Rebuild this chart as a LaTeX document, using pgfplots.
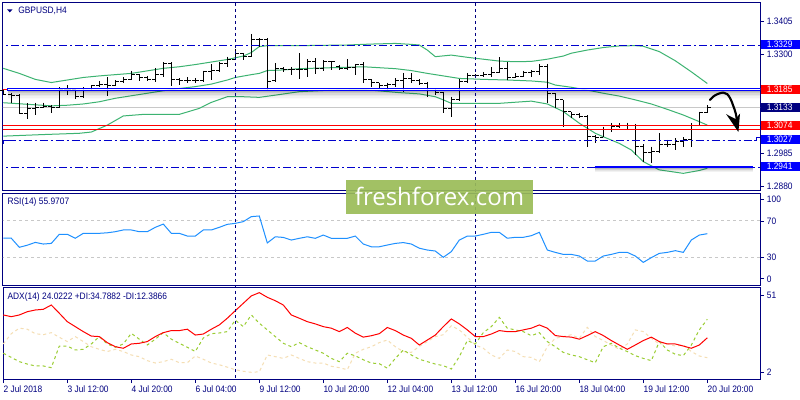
\documentclass[border=0pt]{standalone}
\usepackage{fontspec}
\setmainfont{Liberation Sans}[FakeStretch=0.9]
\newfontfamily\wmfont{Open Sans}
\usepackage{pgfplots}
\pgfplotsset{compat=1.18}
\usepackage{pgfplotstable}

\definecolor{navyc}{RGB}{0,0,128}
\definecolor{lvl}{RGB}{0,0,205}
\definecolor{bluel}{RGB}{0,0,255}
\definecolor{bb}{RGB}{60,179,113}
\definecolor{rsic}{RGB}{30,144,255}
\definecolor{pdi}{RGB}{154,205,50}
\definecolor{mdi}{RGB}{245,222,179}
\definecolor{wm}{RGB}{155,188,87}
\definecolor{bidc}{RGB}{200,200,200}
\newcommand\lbl{\fontsize{7pt}{8pt}\selectfont}

% open / close ticks of the OHLC bars
\pgfdeclareplotmark{otick}{\pgfpathmoveto{\pgfqpoint{-2.4pt}{0pt}}\pgfpathlineto{\pgfqpoint{0pt}{0pt}}\pgfusepathqstroke}
\pgfdeclareplotmark{ctick}{\pgfpathmoveto{\pgfqpoint{0pt}{0pt}}\pgfpathlineto{\pgfqpoint{2.4pt}{0pt}}\pgfusepathqstroke}

\pgfplotstableread{
x o h l c
0 1.3184 1.3186 1.3170 1.3173
1 1.3173 1.3178 1.3144 1.3170
2 1.3170 1.3173 1.3109 1.3112
3 1.3112 1.3144 1.3093 1.3128
4 1.3128 1.3146 1.3107 1.3131
5 1.3131 1.3146 1.3128 1.3133
6 1.3133 1.3139 1.3112 1.3130
7 1.3130 1.3195 1.3128 1.3188
8 1.3188 1.3202 1.3170 1.3188
9 1.3188 1.3192 1.3157 1.3165
10 1.3165 1.3195 1.3162 1.3186
11 1.3186 1.3202 1.3184 1.3199
12 1.3199 1.3215 1.3195 1.3204
13 1.3204 1.3226 1.3167 1.3202
14 1.3202 1.3218 1.3200 1.3213
15 1.3213 1.3226 1.3207 1.3220
16 1.3220 1.3248 1.3218 1.3234
17 1.3234 1.3237 1.3215 1.3226
18 1.3226 1.3231 1.3215 1.3220
19 1.3220 1.3255 1.3213 1.3237
20 1.3237 1.3275 1.3229 1.3271
21 1.3271 1.3275 1.3199 1.3220
22 1.3220 1.3223 1.3202 1.3218
23 1.3218 1.3226 1.3210 1.3216
24 1.3216 1.3223 1.3207 1.3215
25 1.3215 1.3248 1.3212 1.3244
26 1.3244 1.3268 1.3218 1.3248
27 1.3248 1.3276 1.3244 1.3271
28 1.3271 1.3292 1.3260 1.3284
29 1.3284 1.3317 1.3281 1.3303
30 1.3303 1.3303 1.3281 1.3292
31 1.3292 1.3364 1.3290 1.3345
32 1.3345 1.3350 1.3324 1.3348
33 1.3348 1.3350 1.3186 1.3213
34 1.3215 1.3271 1.3213 1.3255
35 1.3255 1.3260 1.3244 1.3252
36 1.3252 1.3260 1.3234 1.3250
37 1.3250 1.3303 1.3220 1.3250
38 1.3250 1.3284 1.3229 1.3276
39 1.3276 1.3287 1.3237 1.3255
40 1.3255 1.3281 1.3248 1.3276
41 1.3276 1.3279 1.3250 1.3276
42 1.3262 1.3266 1.3250 1.3255
43 1.3255 1.3284 1.3250 1.3257
44 1.3257 1.3269 1.3234 1.3266
45 1.3266 1.3275 1.3210 1.3220
46 1.3220 1.3220 1.3195 1.3210
47 1.3210 1.3210 1.3188 1.3199
48 1.3199 1.3210 1.3186 1.3205
49 1.3205 1.3223 1.3197 1.3218
50 1.3218 1.3241 1.3181 1.3223
51 1.3223 1.3241 1.3207 1.3218
52 1.3218 1.3220 1.3202 1.3207
53 1.3207 1.3213 1.3165 1.3184
54 1.3184 1.3188 1.3170 1.3178
55 1.3178 1.3181 1.3114 1.3128
56 1.3128 1.3165 1.3100 1.3155
57 1.3155 1.3220 1.3152 1.3213
58 1.3213 1.3241 1.3210 1.3231
59 1.3231 1.3237 1.3223 1.3231
60 1.3231 1.3244 1.3226 1.3237
61 1.3237 1.3258 1.3229 1.3241
62 1.3241 1.3290 1.3239 1.3255
63 1.3255 1.3275 1.3218 1.3226
64 1.3226 1.3241 1.3223 1.3229
65 1.3229 1.3248 1.3226 1.3241
66 1.3241 1.3250 1.3226 1.3244
67 1.3244 1.3269 1.3234 1.3262
68 1.3262 1.3269 1.3144 1.3176
69 1.3176 1.3176 1.3128 1.3155
70 1.3155 1.3155 1.3068 1.3118
71 1.3118 1.3118 1.3096 1.3110
72 1.3110 1.3114 1.3096 1.3102
73 1.3102 1.3107 1.3007 1.3038
74 1.3038 1.3044 1.3019 1.3036
75 1.3036 1.3070 1.3036 1.3062
76 1.3062 1.3081 1.3054 1.3072
77 1.3072 1.3081 1.3065 1.3075
78 1.3075 1.3083 1.3062 1.3075
79 1.3075 1.3079 1.2980 1.3007
80 1.3007 1.3015 1.2959 1.2988
81 1.2988 1.3007 1.2954 1.2991
82 1.2991 1.3049 1.2988 1.3015
83 1.3015 1.3028 1.3007 1.3012
84 1.3012 1.3033 1.2996 1.3022
85 1.3022 1.3036 1.3005 1.3028
86 1.3028 1.3081 1.3005 1.3075
87 1.3075 1.3118 1.3072 1.3114
88 1.3114 1.3139 1.3112 1.3131
}\ohlc

\pgfplotstableread{
x y
0 1.3255
2 1.3239
4 1.3220
6 1.3210
8 1.3218
10 1.3226
12 1.3231
14 1.3235
16 1.3239
18 1.3247
20 1.3255
22 1.3260
24 1.3267
26 1.3275
28 1.3283
30 1.3294
31 1.3305
32 1.3324
33 1.3327
37 1.3327
40 1.3328
43 1.3329
46 1.3332
49 1.3334
51 1.3331
52 1.3329
53 1.3313
54 1.3292
56 1.3297
58 1.3290
60 1.3284
62 1.3278
64 1.3276
66 1.3277
68 1.3284
70 1.3294
71 1.3303
73 1.3313
75 1.3321
77 1.3326
79 1.3327
80 1.3325
82 1.3308
84 1.3279
86 1.3244
88 1.3207
}\bbup

\pgfplotstableread{
x y
0 1.3146
3 1.3141
6 1.3136
8 1.3138
10 1.3142
12 1.3149
14 1.3160
16 1.3168
18 1.3176
20 1.3184
22 1.3191
24 1.3197
26 1.3205
28 1.3218
29 1.3226
31 1.3235
32 1.3239
33 1.3248
35 1.3250
37 1.3254
41 1.3257
45 1.3260
49 1.3254
51 1.3248
53 1.3239
55 1.3231
57 1.3223
60 1.3220
63 1.3218
66 1.3215
68 1.3211
69 1.3202
71 1.3195
73 1.3186
75 1.3176
77 1.3167
79 1.3155
81 1.3142
83 1.3125
85 1.3107
87 1.3086
88 1.3075
}\bbmid

\pgfplotstableread{
x y
0 1.3040
5 1.3045
9.5 1.3049
11 1.3053
13 1.3075
15 1.3104
17.5 1.3109
22 1.3109
24.5 1.3128
26 1.3147
28 1.3165
30 1.3165
32 1.3163
34 1.3170
37 1.3181
41 1.3186
45 1.3188
49.5 1.3178
52 1.3174
54 1.3165
55 1.3155
56 1.3144
62 1.3144
66 1.3151
68 1.3142
70 1.3118
72 1.3081
74 1.3049
75 1.3038
77 1.3017
78.5 1.2996
80 1.2959
82 1.2933
85 1.2922
87 1.2931
88 1.2938
}\bblow

\pgfplotstableread{
x v
0 51.0
1 51.0
2 41.0
3 43.3
4 46.4
5 44.6
6 45.3
7 55.3
8 55.3
9 51.0
10 56.4
11 56.4
12 56.4
13 57.0
14 58.2
15 60.1
16 60.1
17 58.2
18 58.2
19 63.0
20 66.6
21 56.4
22 56.4
23 53.4
24 53.4
25 60.1
26 60.1
27 63.0
28 66.3
29 67.4
30 69.3
31 74.8
32 75.5
33 45.8
34 52.6
35 51.9
36 49.0
37 50.9
38 52.6
39 50.9
40 54.5
41 50.9
42 50.9
43 50.9
44 53.4
45 44.6
46 41.6
47 41.6
48 43.5
49 45.3
50 46.2
51 44.6
52 40.0
53 38.0
54 36.9
55 30.0
56 36.2
57 49.0
58 53.4
59 53.4
60 55.3
61 57.5
62 57.5
63 51.0
64 52.0
65 52.0
66 53.8
67 57.5
68 38.0
69 35.4
70 33.2
71 33.2
72 31.4
73 25.9
74 25.9
75 31.4
76 33.2
77 35.4
78 35.4
79 31.4
80 24.4
81 29.6
82 34.3
83 35.4
84 37.3
85 35.4
86 49.0
87 54.5
88 56.0
}\rsi

\pgfplotstableread{
x a p m
0 37.3 15.0 20.4
1 36.3 12.6 26.4
2 37.3 10.1 29.6
3 39.2 8.7 29.0
4 40.2 7.6 26.4
5 40.6 7.6 25.8
6 43.1 6.6 27.0
7 38.3 19.2 24.3
8 33.4 19.2 21.8
9 30.5 16.9 24.7
10 27.6 17.3 21.8
11 25.0 20.4 18.8
12 24.7 24.7 17.3
13 21.2 20.4 16.0
14 18.8 18.5 17.3
15 17.9 20.4 16.0
16 20.4 26.6 14.0
17 20.8 23.2 13.0
18 21.8 19.8 10.7
19 24.7 23.2 9.3
20 27.0 27.0 10.1
21 28.2 23.2 11.5
22 28.2 20.8 9.5
23 29.0 18.5 9.5
24 25.6 16.0 13.4
25 26.2 23.9 11.5
26 29.0 26.4 9.3
27 31.5 26.8 8.3
28 35.4 27.6 6.9
29 39.8 34.3 5.4
30 44.1 30.5 4.5
31 48.4 37.3 3.9
32 50.3 32.5 4.2
33 47.6 28.6 14.0
34 45.6 24.7 13.0
35 43.1 20.8 12.0
36 37.3 18.8 14.0
37 35.4 21.2 12.0
38 33.4 18.8 10.1
39 32.1 16.9 9.3
40 30.5 15.0 9.3
41 29.6 12.0 7.4
42 27.6 10.1 6.6
43 30.0 15.0 5.4
44 26.7 13.5 15.0
45 24.4 11.2 17.3
46 25.2 9.3 18.8
47 26.4 8.9 21.2
48 30.0 6.3 22.7
49 28.2 12.0 18.8
50 25.6 16.9 16.0
51 23.7 14.0 15.5
52 19.8 11.5 19.0
53 22.7 10.1 21.8
54 25.6 8.7 24.7
55 30.5 7.8 25.8
56 35.0 5.8 31.0
57 32.1 13.0 28.6
58 28.6 22.4 24.3
59 24.7 20.4 19.8
60 24.7 27.0 17.9
61 26.2 30.5 14.0
62 28.2 35.9 12.0
63 27.6 29.6 16.9
64 27.6 28.6 16.0
65 28.6 27.6 13.0
66 29.6 25.2 12.6
67 31.5 27.0 10.1
68 29.6 21.8 18.8
69 25.3 18.8 23.7
70 24.7 15.5 24.7
71 24.4 14.0 25.8
72 23.2 13.0 23.7
73 25.3 11.2 30.1
74 27.6 9.5 24.7
75 25.3 18.8 22.4
76 22.4 20.8 19.8
77 19.8 17.9 17.3
78 17.3 16.0 20.4
79 19.8 13.6 28.6
80 22.4 12.0 27.6
81 24.4 10.7 23.7
82 21.8 21.8 20.4
83 20.4 16.9 20.4
84 20.4 14.4 19.2
85 19.2 13.6 19.8
86 17.9 19.8 16.0
87 19.8 28.6 13.4
88 24.0 34.8 12.4
}\adx

\pgfplotsset{
  panel/.style={
    scale only axis, width=567.75pt, anchor=south west,
    clip mode=individual,
    xmin=-0.0375, xmax=94.5875,
    axis line style={navyc, line width=0.75pt},
    tick style={navyc, line width=0.75pt},
    tick align=outside, major tick length=3pt,
    xtick=\empty,
    ytick pos=right, yticklabel pos=right,
    ticklabel style={font=\lbl, text=navyc, inner sep=0pt},
    yticklabel style={anchor=west, xshift=2pt},
    /pgf/number format/assume math mode=true,
  },
  lv/.style={lvl, line width=0.75pt, dash pattern=on 6pt off 2.25pt on 1.5pt off 2.25pt},
}

\begin{document}
\begin{tikzpicture}
\useasboundingbox (0,0) rectangle (600pt,300pt);
\fill[white] (0,0) rectangle (600pt,300pt);

% ---- price panel
\begin{axis}[panel, at={(2.25pt,157.125pt)}, height=141pt,
    ymin=1.28676, ymax=1.34638,
    ytick={1.2880,1.2985,1.3300,1.3405},
    yticklabels={1.2880,1.2985,1.3300,1.3405}]
  \addplot[bidc, line width=0.75pt] coordinates {(-1,1.3131) (96,1.3131)};
  \addplot[bb, line width=0.75pt] table[x=x,y=y] {\bbup};
  \addplot[bb, line width=0.75pt] table[x=x,y=y] {\bbmid};
  \addplot[bb, line width=0.75pt] table[x=x,y=y] {\bblow};
  % high-low
  \addplot[draw=none, mark=none, forget plot,
    error bars/.cd, y dir=minus, y explicit, error mark=none,
    error bar style={draw=black, line width=0.75pt, solid}]
    table[x=x, y=h, y error expr=\thisrow{h}-\thisrow{l}] {\ohlc};
  \addplot[only marks, mark=otick, mark options={black, line width=0.75pt, solid}] table[x=x,y=o] {\ohlc};
  \addplot[only marks, mark=ctick, mark options={black, line width=0.75pt, solid}] table[x=x,y=c] {\ohlc};
  % levels
  \addplot[lv] coordinates {(-1,1.3329) (96,1.3329)};
  \addplot[lv] coordinates {(0.55,1.3027) (96,1.3027)};
  \addplot[lv] coordinates {(-1,1.2941) (96,1.2941)};
  \addplot[red, line width=0.75pt] coordinates {(-1,1.3074) (96,1.3074)};
  \addplot[red, line width=0.75pt] coordinates {(-1,1.3062) (96,1.3062)};
  \addplot[red, line width=0.75pt] coordinates {(-1,1.31868) (0.5,1.31868)};
  % resistance band with its shadow
  \addplot[draw=none, fill=black, fill opacity=0.30] coordinates {(0.6,1.31860) (95,1.31860) (95,1.31812) (0.6,1.31812)};
  \addplot[draw=none, fill=black, fill opacity=0.22] coordinates {(0.6,1.31812) (95,1.31812) (95,1.31765) (0.6,1.31765)};
  \addplot[draw=none, fill=black, fill opacity=0.15] coordinates {(0.6,1.31765) (95,1.31765) (95,1.31717) (0.6,1.31717)};
  \addplot[draw=none, fill=black, fill opacity=0.09] coordinates {(0.6,1.31717) (95,1.31717) (95,1.31670) (0.6,1.31670)};
  \addplot[draw=none, fill=black, fill opacity=0.05] coordinates {(0.6,1.31670) (95,1.31670) (95,1.31622) (0.6,1.31622)};
  \addplot[draw=none, fill=black, fill opacity=0.02] coordinates {(0.6,1.31622) (95,1.31622) (95,1.31575) (0.6,1.31575)};
  \addplot[bluel, line width=0.75pt, fill=white, fill opacity=0.85] coordinates {(96,1.31916) (0.5,1.31916) (0.5,1.31852) (96,1.31852)};
  % support line with its shadow
  \addplot[draw=none, fill=black, fill opacity=0.28] coordinates {(74,1.29384) (93.75,1.29384) (93.75,1.29352) (74,1.29352)};
  \addplot[draw=none, fill=black, fill opacity=0.18] coordinates {(74,1.29352) (93.75,1.29352) (93.75,1.29320) (74,1.29320)};
  \addplot[draw=none, fill=black, fill opacity=0.10] coordinates {(74,1.29320) (93.75,1.29320) (93.75,1.29288) (74,1.29288)};
  \addplot[draw=none, fill=black, fill opacity=0.05] coordinates {(74,1.29288) (93.75,1.29288) (93.75,1.29256) (74,1.29256)};
  \addplot[bluel, line width=1.7pt] coordinates {(73.96,1.29416) (93.75,1.29416)};
\end{axis}

% ---- RSI panel
\begin{axis}[panel, at={(2.25pt,85.875pt)}, height=69pt,
    ymin=-1.1, ymax=100.3,
    ytick={6.1,29.8,69.6,93.9}, yticklabels={0,30,70,100}]
  \addplot[bidc, line width=0.75pt, dash pattern=on 2.25pt off 2.25pt] coordinates {(-1,70) (96,70)};
  \addplot[bidc, line width=0.75pt, dash pattern=on 2.25pt off 2.25pt] coordinates {(-1,30) (96,30)};
  \addplot[rsic, line width=0.75pt] table[x=x,y=v] {\rsi};
\end{axis}

% ---- ADX panel
\begin{axis}[panel, at={(2.25pt,15.75pt)}, height=68.625pt,
    ymin=0, ymax=53.3,
    ytick={3.7,48.9}, yticklabels={2,51},
    xtick={0,8,...,88}, xtick pos=left,
    xticklabels={2 Jul 2018,3 Jul 12:00,4 Jul 20:00,6 Jul 04:00,9 Jul 12:00,10 Jul 20:00,12 Jul 04:00,13 Jul 12:00,16 Jul 20:00,18 Jul 04:00,19 Jul 12:00,20 Jul 20:00},
    xticklabel style={anchor=north west, yshift=-1.5pt}]
  \addplot[mdi, line width=0.75pt, dash pattern=on 2.25pt off 2.25pt] table[x=x,y=m] {\adx};
  \addplot[pdi, line width=0.75pt, dash pattern=on 2.25pt off 2.25pt] table[x=x,y=p] {\adx};
  \addplot[red, line width=0.75pt] table[x=x,y=a] {\adx};
\end{axis}

% ---- overlays in pixel coordinates (origin top left)
\begin{scope}[x=0.75pt, y=-0.75pt, shift={(0,300pt)}]
  \draw[navyc, line width=0.75pt, dash pattern=on 2.25pt off 2.25pt] (235.7,3) -- (235.7,379);
  \draw[navyc, line width=0.75pt, dash pattern=on 2.25pt off 2.25pt] (475.7,3) -- (475.7,379);
  % small end markers of the 1.3027 level
  \draw[lvl, line width=0.75pt] (3.8,144) -- (3.8,140.2) -- (7.5,140.2);
  \draw[lvl, line width=0.75pt] (754,140.2) -- (756,140.2) -- (756,137.3) -- (760,137.3);
  % titles
  \fill[navyc] (7,9.3) -- (12.6,9.3) -- (9.8,12.4) -- cycle;
  \node[anchor=base west, inner sep=0pt, text=navyc, font=\lbl] at (18,13.8) {GBPUSD,H4};
  \node[anchor=base west, inner sep=0pt, text=navyc, font=\lbl] at (7.3,204.3) {RSI(14) 55.9707};
  \node[anchor=base west, inner sep=0pt, text=navyc, font=\lbl] at (7.3,300) {ADX(14) 24.0222 +DI:34.7882 -DI:12.3866};
  % price boxes on the scale
  \fill[bluel] (761,40) rectangle (800,49.4);
  \node[anchor=west, inner sep=0pt, text=white, font=\lbl] at (766.5,44.7) {1.3329};
  \fill[red] (761,85) rectangle (800,94.2);
  \node[anchor=west, inner sep=0pt, text=white, font=\lbl] at (766.5,89.6) {1.3185};
  \fill[navyc] (761,102.7) rectangle (800,112.2);
  \node[anchor=west, inner sep=0pt, text=white, font=\lbl] at (766.5,107.5) {1.3133};
  \fill[red] (761,121) rectangle (800,130.2);
  \node[anchor=west, inner sep=0pt, text=white, font=\lbl] at (766.5,125.6) {1.3074};
  \fill[bluel] (761,135) rectangle (800,144.2);
  \node[anchor=west, inner sep=0pt, text=white, font=\lbl] at (766.5,139.6) {1.3027};
  \fill[bluel] (761,161.7) rectangle (800,171);
  \node[anchor=west, inner sep=0pt, text=white, font=\lbl] at (766.5,166.4) {1.2941};
  % hand drawn arrow
  \draw[black, line width=1.6pt, line cap=round] plot[smooth, tension=0.6] coordinates {(710,100) (713.3,96.5) (718.3,93.8) (723.3,92.6) (727.3,94.2) (730.7,99.3) (733.3,106) (735.7,113.3) (737.2,122)};
  \fill[black] (726.2,114.2) -- (738.4,132) -- (740,113.5) -- (735.5,119) -- cycle;
  % watermark
  \fill[wm, fill opacity=0.92] (346,180) rectangle (533,214.3);
  \node[anchor=base, inner sep=0pt, text=white, font=\wmfont\fontsize{18pt}{20pt}\selectfont] at (439.5,206) {freshforex.com};
\end{scope}
\end{tikzpicture}
\end{document}
